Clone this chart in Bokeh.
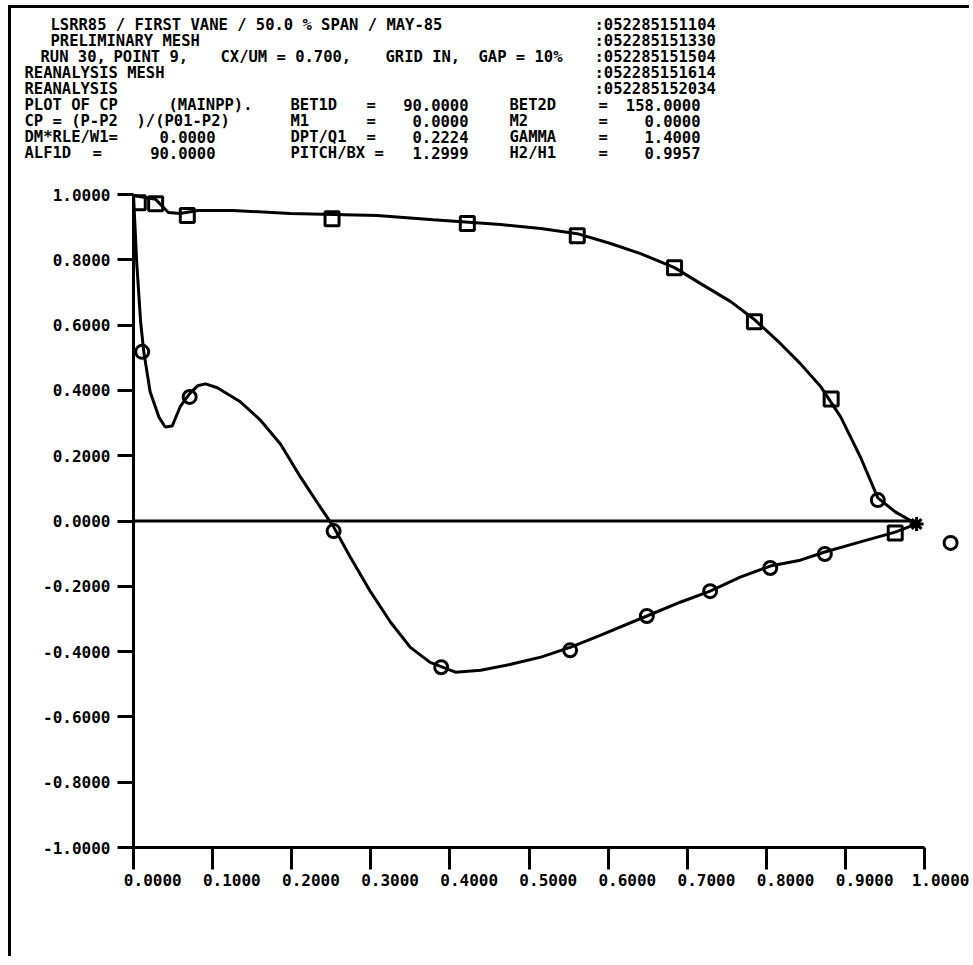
from bokeh.plotting import figure
from bokeh.models import Range1d, FixedTicker, Label
from bokeh.layouts import column
from bokeh.embed import file_html
from bokeh.resources import INLINE

# ---------------- data ----------------
x_ticks = [0.0, 0.1, 0.2, 0.3, 0.4, 0.5, 0.6, 0.7, 0.8, 0.9, 1.0]
x_tick_labels = ["0.0000", "0.1000", "0.2000", "0.3000", "0.4000", "0.5000",
                 "0.6000", "0.7000", "0.8000", "0.9000", "1.0000"]
y_ticks = [1.0, 0.8, 0.6, 0.4, 0.2, 0.0, -0.2, -0.4, -0.6, -0.8, -1.0]
y_tick_labels = ["1.0000", "0.8000", "0.6000", "0.4000", "0.2000", "0.0000",
                 "-0.2000", "-0.4000", "-0.6000", "-0.8000", "-1.0000"]

# upper (pressure) curve
upper_x = [0.000, 0.028, 0.044, 0.059, 0.081, 0.126, 0.198, 0.253, 0.308, 0.379,
           0.464, 0.515, 0.561, 0.603, 0.641, 0.684, 0.717, 0.755, 0.785, 0.818,
           0.843, 0.869, 0.894, 0.919, 0.941, 0.963, 0.990]
upper_y = [0.997, 0.985, 0.945, 0.942, 0.951, 0.951, 0.942, 0.939, 0.936, 0.923,
           0.908, 0.896, 0.880, 0.850, 0.819, 0.776, 0.727, 0.672, 0.617, 0.543,
           0.482, 0.411, 0.319, 0.196, 0.071, 0.028, -0.009]
# lower (suction) curve
lower_x = [0.000, 0.004, 0.009, 0.013, 0.021, 0.032, 0.040, 0.049, 0.059, 0.071,
           0.081, 0.091, 0.106, 0.135, 0.160, 0.186, 0.211, 0.236, 0.253, 0.274,
           0.300, 0.325, 0.350, 0.375, 0.407, 0.439, 0.477, 0.515, 0.552, 0.590,
           0.649, 0.692, 0.729, 0.767, 0.805, 0.843, 0.874, 0.919, 0.963, 0.990]
lower_y = [1.000, 0.794, 0.610, 0.518, 0.396, 0.319, 0.288, 0.291, 0.350, 0.390,
           0.414, 0.420, 0.408, 0.365, 0.310, 0.235, 0.135, 0.043, -0.018, -0.110,
           -0.218, -0.310, -0.387, -0.433, -0.463, -0.457, -0.439, -0.417, -0.387, -0.350,
           -0.291, -0.248, -0.215, -0.172, -0.138, -0.120, -0.095, -0.064, -0.034, -0.009]

square_x = [0.006, 0.028, 0.068, 0.251, 0.422, 0.561, 0.684, 0.785, 0.882, 0.963]
square_y = [0.975, 0.972, 0.936, 0.926, 0.911, 0.874, 0.776, 0.610, 0.374, -0.037]
circle_x = [0.011, 0.071, 0.253, 0.389, 0.552, 0.649, 0.729, 0.805, 0.874, 0.941, 1.033]
circle_y = [0.518, 0.380, -0.031, -0.448, -0.396, -0.291, -0.215, -0.144, -0.101, 0.064, -0.067]
te_x = [0.990]
te_y = [-0.009]
zero_x = [0.0, 0.990]
zero_y = [0.0, 0.0]

header_stamps = [":052285151104", ":052285151330", ":052285151504", ":052285151614",
                 ":052285152034"]

# ---------------- geometry ----------------
OX, OY = 11, 8            # page offset of the content (margin + border)
W = 958
HH = 160                  # header height
PH = 788                  # plot height
FONT = "DejaVu Sans Mono"
LW = 3

# ---------------- header ----------------
h = figure(width=W, height=HH, output_backend="svg", toolbar_location=None,
           x_range=Range1d(OX, OX + W), y_range=Range1d(OY + HH, OY),
           x_axis_type=None, y_axis_type=None,
           min_border_left=0, min_border_right=0, min_border_top=0, min_border_bottom=0)
h.grid.visible = False
h.outline_line_color = None
h.background_fill_color = "white"
h.border_fill_color = "white"


def txt(px, py, s, align="left"):
    h.add_layout(Label(x=px, y=py, text=s, text_font=FONT, text_font_style="bold",
                       text_font_size="15.5px", text_color="black", text_align=align,
                       text_baseline="middle"))


rows = [24, 40, 56, 72, 88, 104, 120, 136, 152]
for r, s in zip(rows[:5], header_stamps):
    txt(594, r, s)

txt(50, rows[0], "LSRR85 / FIRST VANE / 50.0 % SPAN / MAY-85")
txt(50, rows[1], "PRELIMINARY MESH")
txt(40, rows[2], "RUN 30,")
txt(113, rows[2], "POINT 9,")
txt(220, rows[2], "CX/UM = 0.700,")
txt(385, rows[2], "GRID IN,")
txt(478, rows[2], "GAP = 10%")
txt(24, rows[3], "REANALYSIS MESH")
txt(24, rows[4], "REANALYSIS")

txt(24, rows[5], "PLOT OF CP")
txt(168, rows[5], "(MAINPP).")
txt(24, rows[6], "CP = (P-P2")
txt(136, rows[6], ")/(P01-P2)")
txt(24, rows[7], "DM*RLE/W1=")
txt(215, rows[7], "0.0000", "right")
txt(24, rows[8], "ALF1D")
txt(92, rows[8], "=")
txt(215, rows[8], "90.0000", "right")

mid = [("BET1D", "=", "90.0000"), ("M1", "=", "0.0000"), ("DPT/Q1", "=", "0.2224")]
for r, (a, e, v) in zip(rows[5:8], mid):
    txt(290, r, a)
    txt(366, r, e)
    txt(468, r, v, "right")
txt(290, rows[8], "PITCH/BX =")
txt(468, rows[8], "1.2999", "right")

right = [("BET2D", "=", "158.0000"), ("M2", "=", "0.0000"), ("GAMMA", "=", "1.4000"),
         ("H2/H1", "=", "0.9957")]
for r, (a, e, v) in zip(rows[5:9], right):
    txt(509, r, a)
    txt(598, r, e)
    txt(700, r, v, "right")

# ---------------- plot ----------------
FRAME_L = 133             # page x of CP axis
FRAME_B = 847             # page y of x axis
PX_X = 791.0              # pixels per unit x
PX_Y = 326.5              # pixels per unit y
top_page = OY + HH
X0, X1 = 0.0, (OX + W - FRAME_L) / PX_X
Y0, Y1 = -1.0, -1.0 + (FRAME_B - top_page) / PX_Y

p = figure(width=W, height=PH, output_backend="svg", toolbar_location=None,
           x_range=Range1d(X0, X1), y_range=Range1d(Y0, Y1),
           min_border_left=FRAME_L - OX, min_border_bottom=top_page + PH - FRAME_B,
           min_border_top=0, min_border_right=0)
p.grid.visible = False
p.outline_line_color = None
p.background_fill_color = "white"
p.border_fill_color = "white"

xa = p.xaxis[0]
xa.ticker = FixedTicker(ticks=x_ticks)
xa.bounds = (0.0, 1.0)
xa.major_label_overrides = {t: "\u00a0" * 4 + l for t, l in zip(x_ticks, x_tick_labels)}
ya = p.yaxis[0]
ya.ticker = FixedTicker(ticks=y_ticks)
ya.bounds = (-1.0, 1.0)
ya.major_label_overrides = {t: l for t, l in zip(y_ticks, y_tick_labels)}
for ax, tout in ((xa, 22), (ya, 16)):
    ax.axis_line_width = LW
    ax.axis_line_color = "black"
    ax.major_tick_line_width = LW
    ax.major_tick_line_color = "black"
    ax.major_tick_out = tout
    ax.major_tick_in = 0
    ax.minor_tick_line_color = None
    ax.major_label_text_font = FONT
    ax.major_label_text_font_style = "bold"
    ax.major_label_text_font_size = "16px"
    ax.major_label_text_color = "black"
xa.major_label_standoff = 1
ya.major_label_standoff = 7

p.line(zero_x, zero_y, line_color="black", line_width=LW)
p.line(upper_x, upper_y, line_color="black", line_width=LW)
p.line(lower_x, lower_y, line_color="black", line_width=LW)
p.scatter(square_x, square_y, marker="square", size=14, fill_alpha=0.0,
          line_color="black", line_width=LW)
p.scatter(circle_x, circle_y, marker="circle", size=13, fill_alpha=0.0,
          line_color="black", line_width=LW)
p.scatter(te_x, te_y, marker="asterisk", size=14, line_color="black", line_width=LW)

head = column(h, styles={"margin-left": "8px", "margin-top": "5px",
                         "border-left": "3px solid black", "border-top": "3px solid black"})
body = column(p, styles={"margin-left": "8px", "border-left": "3px solid black"})

open("out.html", "w").write(file_html([head, body], INLINE))
